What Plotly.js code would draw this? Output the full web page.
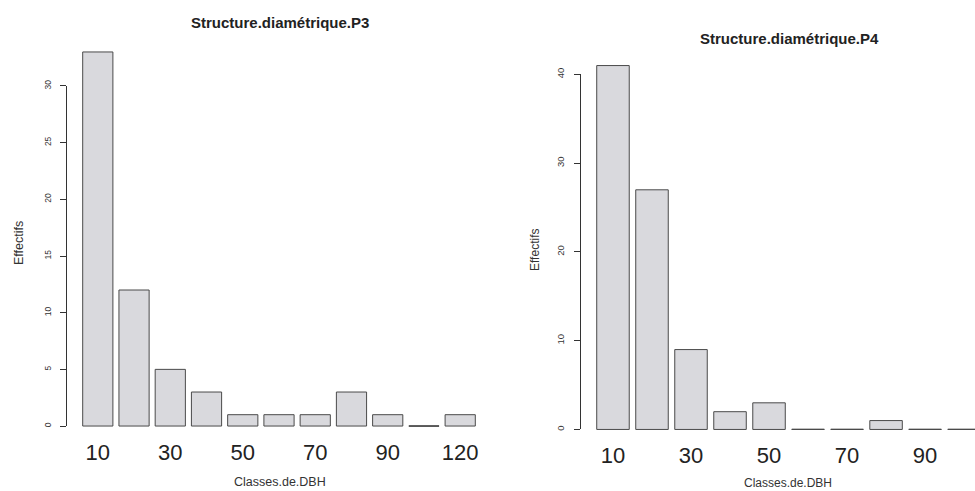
<!DOCTYPE html>
<html><head><meta charset="utf-8">
<script src="https://cdn.plot.ly/plotly-3.0.1.min.js"></script>
<style>html,body{margin:0;padding:0;background:#fff}</style>
</head><body><div id="chart" style="width:975px;height:491px"></div>
<script>
// Data
const classesP3 = ['10','20','30','40','50','60','70','80','90','110','120'];
const effectifsP3 = [33,12,5,3,1,1,1,3,1,0,1];
const xTicksP3 = ['10','30','50','70','90','120'];
const yTicksP3 = [0,5,10,15,20,25,30];

const classesP4 = ['10','20','30','40','50','60','70','80','90','100'];
const effectifsP4 = [41,27,9,2,3,0,0,1,0,0];
const xTicksP4 = ['10','30','50','70','90'];
const yTicksP4 = [0,10,20,30,40];

const FONT = 'Liberation Sans, Arial, sans-serif';
const BAR_W = 1/1.2;
const FILL = '#d9d9dd', EDGE = '#4a4a4a';
const W = 975, H = 491;

function barTrace(x, y, xa, ya){
  return {type:'bar', x:x, y:y, xaxis:xa, yaxis:ya, width:BAR_W,
    marker:{color:FILL, line:{color:EDGE, width:1}}, hoverinfo:'skip', showlegend:false};
}
function zeroShapes(vals, xr, yr){
  const s = [];
  vals.forEach((v,i)=>{ if(v===0) s.push({type:'line', xref:xr, yref:yr,
    x0:i-BAR_W/2, x1:i+BAR_W/2, y0:0, y1:0, line:{color:EDGE, width:1.2}}); });
  return s;
}
// paper span of the tick range, for an R-style axis line from first to last tick
function tickSpan(yd, yr, ticks){
  const f = v => yd[0] + (v - yr[0])/(yr[1]-yr[0])*(yd[1]-yd[0]);
  return [f(ticks[0]), f(ticks[ticks.length-1])];
}

function xax(domain, range, ticks){
  return {domain:domain, type:'category', range:range, showgrid:false, zeroline:false, showline:false,
    ticks:'', tickmode:'array', tickvals:ticks, ticktext:ticks, ticklabelstandoff:-4,
    tickfont:{family:FONT, size:22, color:'#222'}, fixedrange:true};
}
function yax(domain, range, ticks, fs){
  return {domain:domain, range:range, showgrid:false, zeroline:false, showline:false,
    ticks:'outside', ticklen:6, tickwidth:1, tickcolor:'#333', tickmode:'array', tickvals:ticks,
    tickangle:-90, ticklabelstandoff:6, tickfont:{family:FONT, size:fs, color:'#333'}, fixedrange:true};
}
function lineXax(domain){
  return {domain:domain, range:[0,1], showline:false, showgrid:false, zeroline:false,
    showticklabels:false, ticks:'', fixedrange:true};
}
function lineYax(domain, anchor){
  return {domain:domain, range:[0,1], anchor:anchor, showline:true, linecolor:'#333', linewidth:1,
    showgrid:false, zeroline:false, showticklabels:false, ticks:'', fixedrange:true};
}

const xd1 = [67/W, 491/W], yd1 = [1-441/H, 1-37/H], yr1 = [-1.32, 34.32];
const xd2 = [581/W, 1], yd2 = [1-444/H, 1-51/H], yr2 = [-1.64, 42.64];

const data = [
  barTrace(classesP3, effectifsP3, 'x', 'y'),
  barTrace(classesP4, effectifsP4, 'x2', 'y2'),
  {type:'scatter', x:[0], y:[0], mode:'none', xaxis:'x3', yaxis:'y3', hoverinfo:'skip', showlegend:false},
  {type:'scatter', x:[0], y:[0], mode:'none', xaxis:'x4', yaxis:'y4', hoverinfo:'skip', showlegend:false}
];

function ann(text, x, y, size, extra){
  return Object.assign({text:text, xref:'paper', yref:'paper', x:x/W, y:1-y/H, xanchor:'center', yanchor:'middle',
    showarrow:false, font:{family:FONT, size:size, color:'#333'}}, extra||{});
}

const layout = {
  width:W, height:H, margin:{l:0,r:0,t:0,b:0}, paper_bgcolor:'#fff', plot_bgcolor:'rgba(0,0,0,0)',
  bargap:0, showlegend:false,
  xaxis: xax(xd1, [-0.85, 10.85], xTicksP3),
  yaxis: yax(yd1, yr1, yTicksP3, 8.5),
  xaxis2: Object.assign(xax(xd2, [-0.82, 9.28], xTicksP4), {anchor:'y2'}),
  yaxis2: Object.assign(yax(yd2, yr2, yTicksP4, 9.5), {anchor:'x2'}),
  xaxis3: Object.assign(lineXax(xd1), {anchor:'y3'}),
  yaxis3: lineYax(tickSpan(yd1, yr1, yTicksP3), 'x3'),
  xaxis4: Object.assign(lineXax(xd2), {anchor:'y4'}),
  yaxis4: lineYax(tickSpan(yd2, yr2, yTicksP4), 'x4'),
  shapes: [].concat(zeroShapes(effectifsP3,'x','y'), zeroShapes(effectifsP4,'x2','y2')),
  annotations: [
    ann('<b>Structure.diamétrique.P3</b>', 280, 23, 15, {font:{family:FONT, size:15, color:'#222'}}),
    ann('<b>Structure.diamétrique.P4</b>', 789, 38, 15, {font:{family:FONT, size:15, color:'#222'}}),
    ann('Effectifs', 19, 243, 12.5, {textangle:-90}),
    ann('Effectifs', 535, 250, 12, {textangle:-90}),
    ann('Classes.de.DBH', 280, 482, 12.5),
    ann('Classes.de.DBH', 788, 483, 12)
  ]
};
Plotly.newPlot('chart', data, layout, {displayModeBar:false, staticPlot:true});
</script></body></html>
